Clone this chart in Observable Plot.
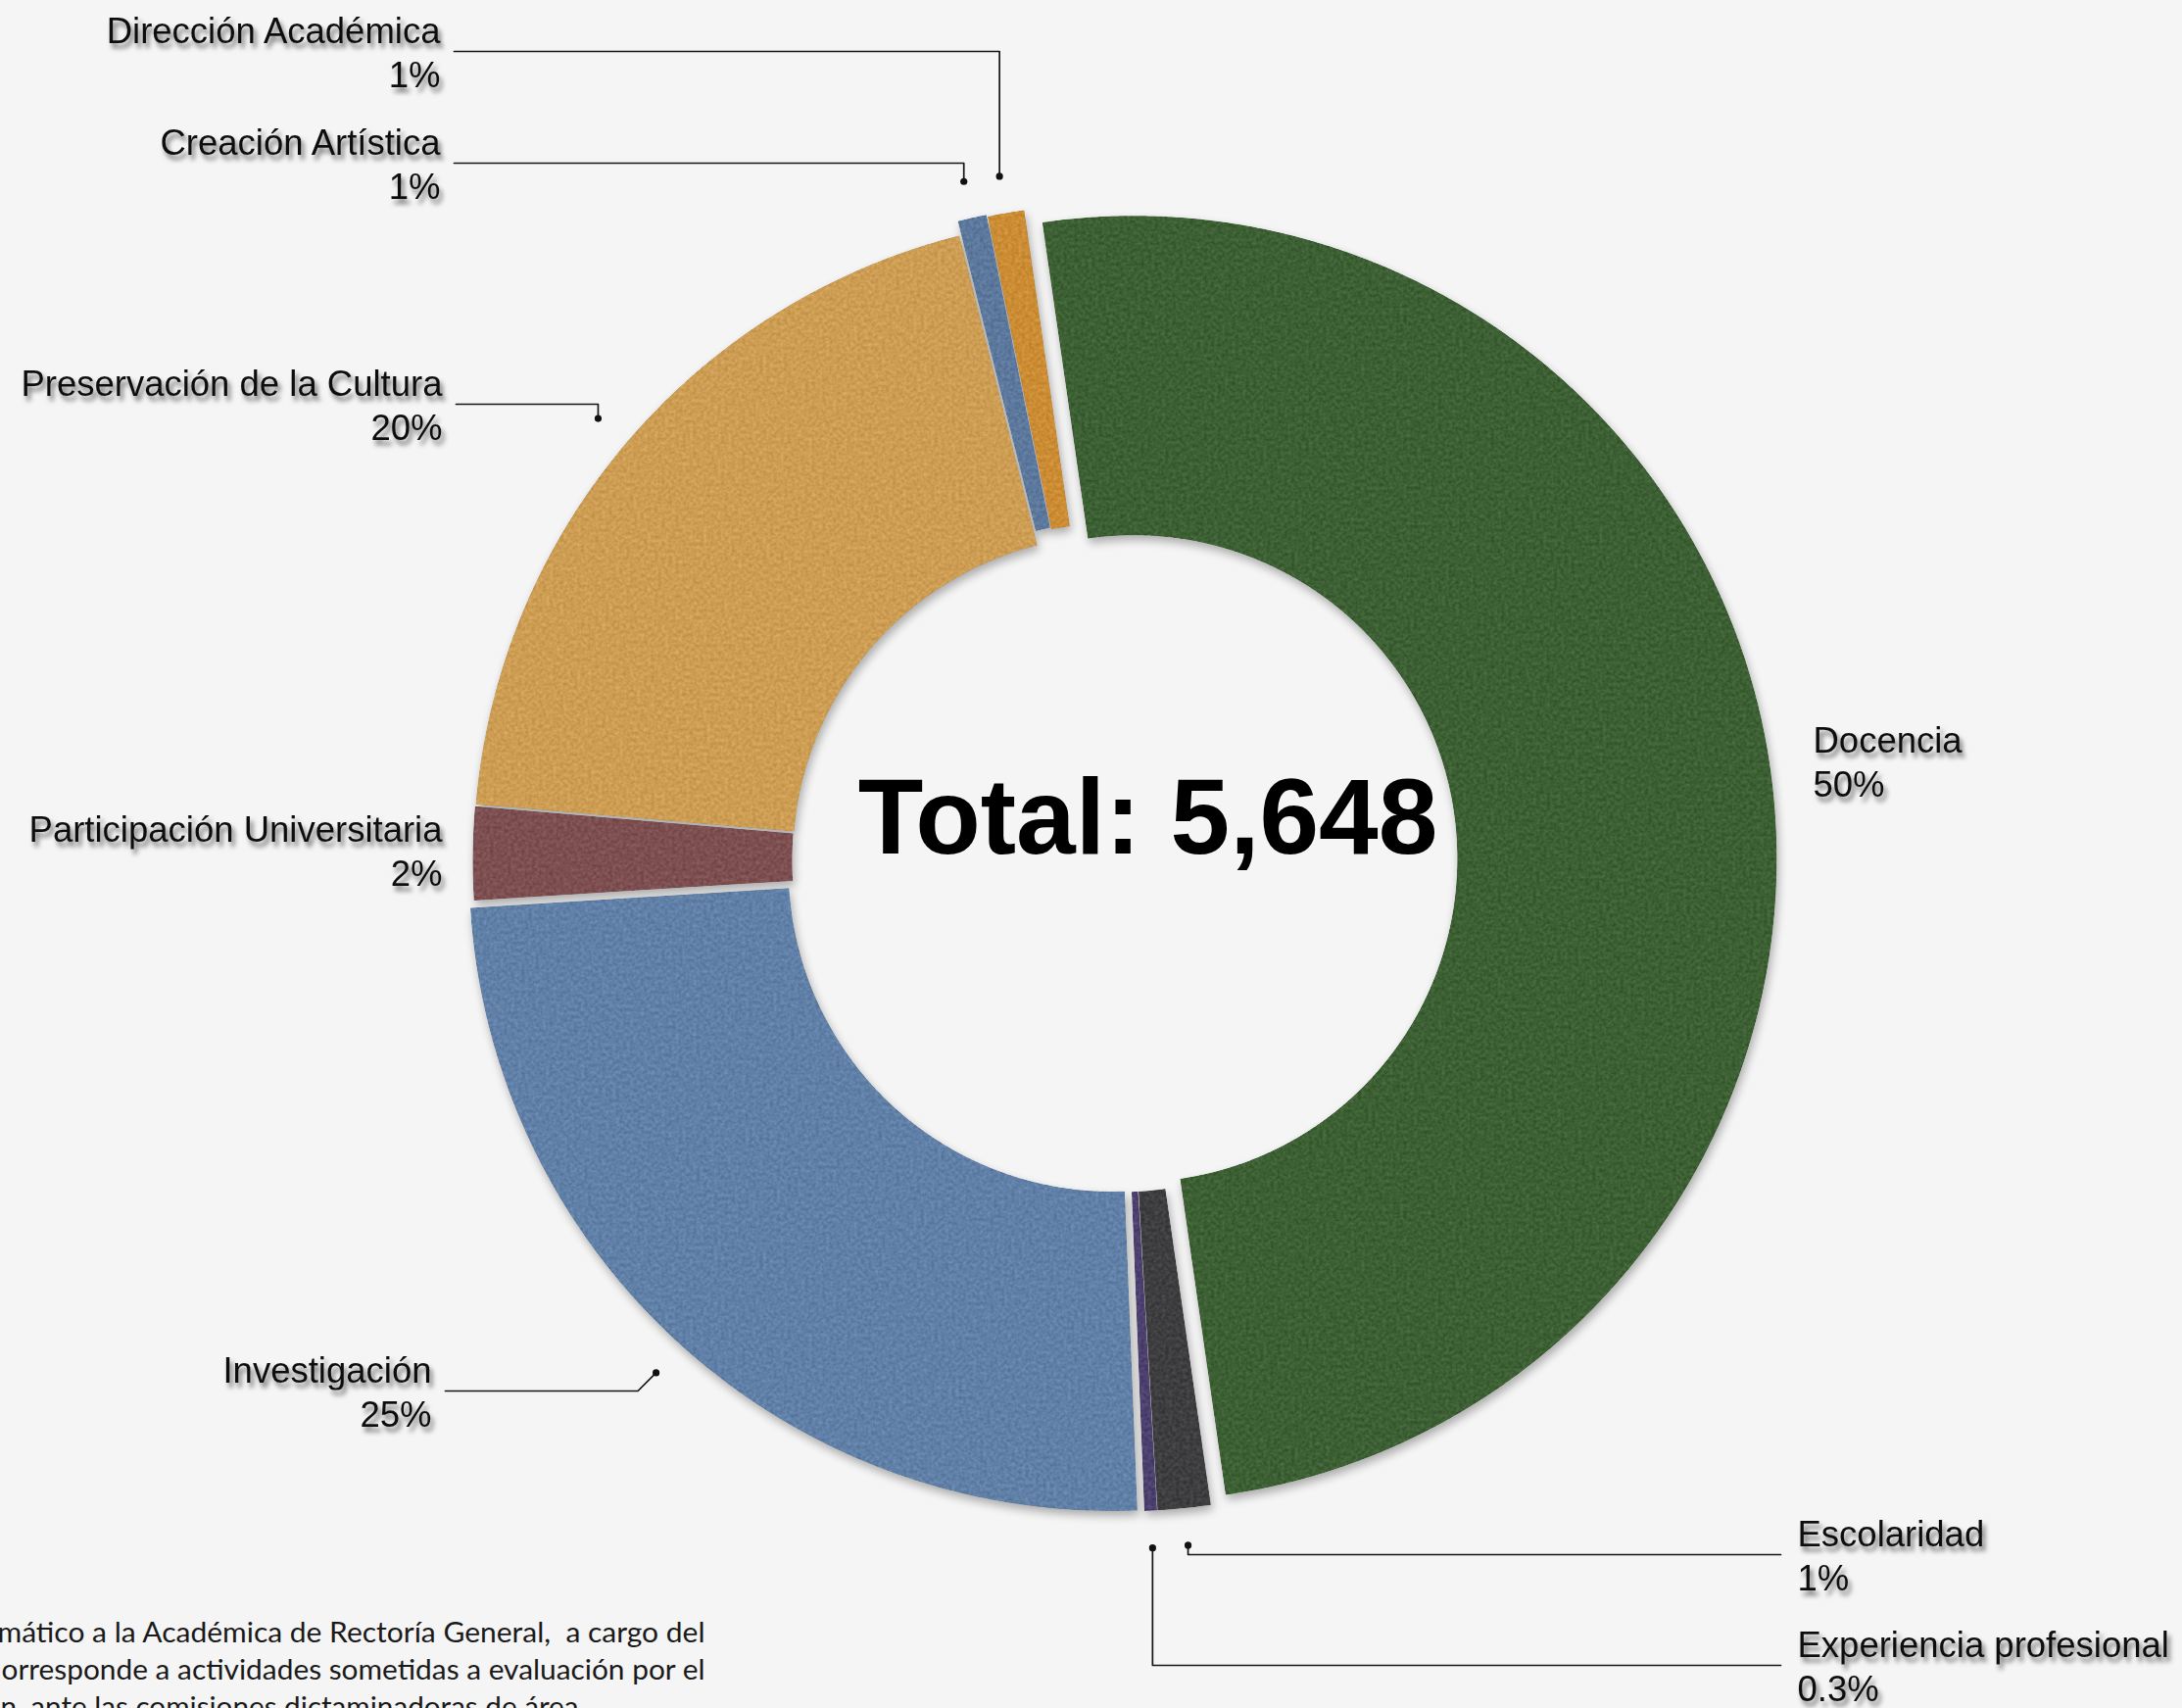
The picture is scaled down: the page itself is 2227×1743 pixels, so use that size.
<!DOCTYPE html>
<html>
<head>
<meta charset="utf-8">
<script src="https://cdn.jsdelivr.net/npm/d3@7"></script>
<script src="https://cdn.jsdelivr.net/npm/@observablehq/plot@0.6"></script>
<style>
  html, body { margin: 0; padding: 0; background: #f5f5f5; }
  #chart svg { display: block; }
</style>
</head>
<body>
<div id="chart"></div>
<script>
// ---------------- DATA ----------------
const categories = [
  "Docencia",
  "Escolaridad",
  "Experiencia profesional",
  "Investigación",
  "Participación Universitaria",
  "Preservación de la Cultura",
  "Creación Artística",
  "Dirección Académica"
];
const values = [2824, 75, 18, 1392, 132, 1114, 41, 52];
const captionLines = [
  "mático a la Académica de Rectoría General,  a cargo del",
  "orresponde a actividades sometidas a evaluación por el",
  "n, ante las comisiones dictaminadoras de área."
];

// ---------------- STYLE / LAYOUT ----------------
const sliceColors = ["#3c6033", "#3e3e40", "#4c406f", "#6180a7", "#7d4f51", "#cc9d52", "#5c789c", "#cb8c33"];
const W = 2227, H = 1743;
const center = {x: 1141, y: 878};
const outerR = 656, innerR = 330;
const rotation = -8.2 * Math.PI / 180;
const explode = [16, 8, 8, 10, 3, 3, 17, 15];
// label anchor (baseline of the name line) per category, same order as categories
const labelLayout = [
  {side: "right", x: 1850, y: 767, leader: null},
  {side: "right", x: 1834, y: 1577, leader: "vertical"},
  {side: "right", x: 1834, y: 1690, leader: "vertical"},
  {side: "left", x: 440, y: 1410, leader: "diagonal"},
  {side: "left", x: 451, y: 858, leader: null},
  {side: "left", x: 451, y: 403, leader: "vertical"},
  {side: "left", x: 449, y: 157, leader: "vertical"},
  {side: "left", x: 449, y: 43, leader: "vertical"}
];
const lineGap = 45;
const labelFont = "'Liberation Sans', Arial, Helvetica, sans-serif";
const labelSize = 36.5;

// ---------------- COMPUTE ----------------
const rows = categories.map((c, i) => ({category: c, value: values[i]}));
const total = d3.sum(values);
const pie = d3.pie().sort(null).value(d => d.value).startAngle(rotation).endAngle(rotation + 2 * Math.PI);
const arcs = pie(rows);

const slicePts = [];
arcs.forEach((a, i) => {
  const mid = (a.startAngle + a.endAngle) / 2;
  const cx = center.x + explode[i] * Math.sin(mid);
  const cy = center.y - explode[i] * Math.cos(mid);
  const n = Math.max(2, Math.ceil((a.endAngle - a.startAngle) / (Math.PI / 720)));
  for (let k = 0; k <= n; k++) {
    const t = a.startAngle + (a.endAngle - a.startAngle) * k / n;
    slicePts.push({category: a.data.category, x: cx + outerR * Math.sin(t), y: cy - outerR * Math.cos(t)});
  }
  for (let k = n; k >= 0; k--) {
    const t = a.startAngle + (a.endAngle - a.startAngle) * k / n;
    slicePts.push({category: a.data.category, x: cx + innerR * Math.sin(t), y: cy - innerR * Math.cos(t)});
  }
});

const pctText = v => {
  const p = v / total * 100;
  return Math.round(p) >= 1 ? `${Math.round(p)}%` : `${d3.format(".1f")(p)}%`;
};

const labels = arcs.map((a, i) => ({
  name: a.data.category,
  pct: pctText(a.data.value),
  x: labelLayout[i].x,
  y: labelLayout[i].y,
  side: labelLayout[i].side
}));
const leftLabels = labels.filter(d => d.side === "left");
const rightLabels = labels.filter(d => d.side === "right");

const leaderPts = [], dots = [];
arcs.forEach((a, i) => {
  const L = labelLayout[i];
  if (!L.leader) return;
  const mid = (a.startAngle + a.endAngle) / 2;
  const rho = outerR + explode[i] + 38;
  const dx = center.x + rho * Math.sin(mid), dy = center.y - rho * Math.cos(mid);
  const lineY = L.y + 9;
  const lineX = L.side === "left" ? L.x + 14 : L.x - 17;
  dots.push({x: dx, y: dy});
  const path = [{x: dx, y: dy}];
  if (L.leader === "diagonal") path.push({x: dx - Math.abs(lineY - dy), y: lineY});
  else path.push({x: dx, y: lineY});
  path.push({x: lineX, y: lineY});
  path.forEach(p => leaderPts.push({...p, k: a.data.category}));
});

const totalLabel = [{x: center.x + 30, y: 870, text: `Total: ${d3.format(",")(total)}`}];
const captionRows = captionLines.map((t, i) => ({text: t, x: [-3, 1, 0][i], y: 1675 + i * 38}));

const labelMarks = (data, anchor) => [
  Plot.text(data, {x: "x", y: "y", text: "name", textAnchor: anchor, lineAnchor: "bottom",
    fontSize: labelSize, fontFamily: labelFont, fill: "#111", ariaDescription: "labels"}),
  Plot.text(data, {x: "x", y: d => d.y + lineGap, text: "pct", textAnchor: anchor, lineAnchor: "bottom",
    fontSize: labelSize, fontFamily: labelFont, fill: "#111", ariaDescription: "labels"})
];

// ---------------- PLOT ----------------
const svg = Plot.plot({
  width: W,
  height: H,
  margin: 0,
  x: {domain: [0, W], range: [0, W], axis: null},
  y: {domain: [0, H], range: [0, H], axis: null},
  color: {domain: categories, range: sliceColors},
  style: {background: "#f5f5f5", overflow: "hidden"},
  marks: [
    Plot.line(slicePts, {x: "x", y: "y", z: "category", fill: "category", stroke: "none", ariaDescription: "slices"}),
    Plot.line(leaderPts, {x: "x", y: "y", z: "k", stroke: "#151515", strokeWidth: 1.7}),
    Plot.dot(dots, {x: "x", y: "y", r: 3.6, fill: "#111", stroke: "none"}),
    ...labelMarks(leftLabels, "end"),
    ...labelMarks(rightLabels, "start"),
    Plot.text(totalLabel, {x: "x", y: "y", text: "text", textAnchor: "middle", lineAnchor: "bottom",
      fontSize: 109, fontWeight: "bold", fontFamily: labelFont, fill: "#000"}),
    Plot.text(captionRows, {x: "x", y: "y", text: "text", textAnchor: "start", lineAnchor: "bottom",
      fontSize: 29, fontFamily: "Lato, 'Open Sans', sans-serif", fill: "#1a1a1a", ariaDescription: "caption"})
  ]
});

// filters (texture + shadows)
const ns = "http://www.w3.org/2000/svg";
const defs = document.createElementNS(ns, "defs");
defs.innerHTML = `
<filter id="felt" x="-5%" y="-5%" width="110%" height="112%" color-interpolation-filters="sRGB">
  <feTurbulence type="fractalNoise" baseFrequency="0.28" numOctaves="5" seed="11" result="noise"/>
  <feColorMatrix in="noise" type="matrix" values="1 0 0 0 0  1 0 0 0 0  1 0 0 0 0  0 0 0 0 1" result="gray"/>
  <feComposite in="SourceGraphic" in2="gray" operator="arithmetic" k1="0" k2="1" k3="0.17" k4="-0.085" result="tex"/>
  <feComposite in="tex" in2="SourceGraphic" operator="in" result="texc"/>
  <feGaussianBlur in="SourceAlpha" stdDeviation="5" result="blur"/>
  <feOffset in="blur" dx="2" dy="5" result="off"/>
  <feComponentTransfer in="off" result="shadow"><feFuncA type="linear" slope="0.3"/></feComponentTransfer>
  <feMerge><feMergeNode in="shadow"/><feMergeNode in="texc"/></feMerge>
</filter>
<filter id="tshadow" x="-10%" y="-10%" width="120%" height="120%">
  <feDropShadow dx="3" dy="5" stdDeviation="2.6" flood-color="#000" flood-opacity="0.55"/>
</filter>`;
svg.insertBefore(defs, svg.firstChild);
const sg = svg.querySelector('[aria-description="slices"]');
if (sg) sg.setAttribute("filter", "url(#felt)");
svg.querySelectorAll('[aria-description="labels"]').forEach(g => g.setAttribute("filter", "url(#tshadow)"));
const capWidths = [722, 718, 597];
svg.querySelectorAll('[aria-description="caption"] text').forEach((t, i) => {
  t.setAttribute("textLength", capWidths[i]);
  t.setAttribute("lengthAdjust", "spacingAndGlyphs");
});

document.getElementById("chart").appendChild(svg);
</script>
</body>
</html>
